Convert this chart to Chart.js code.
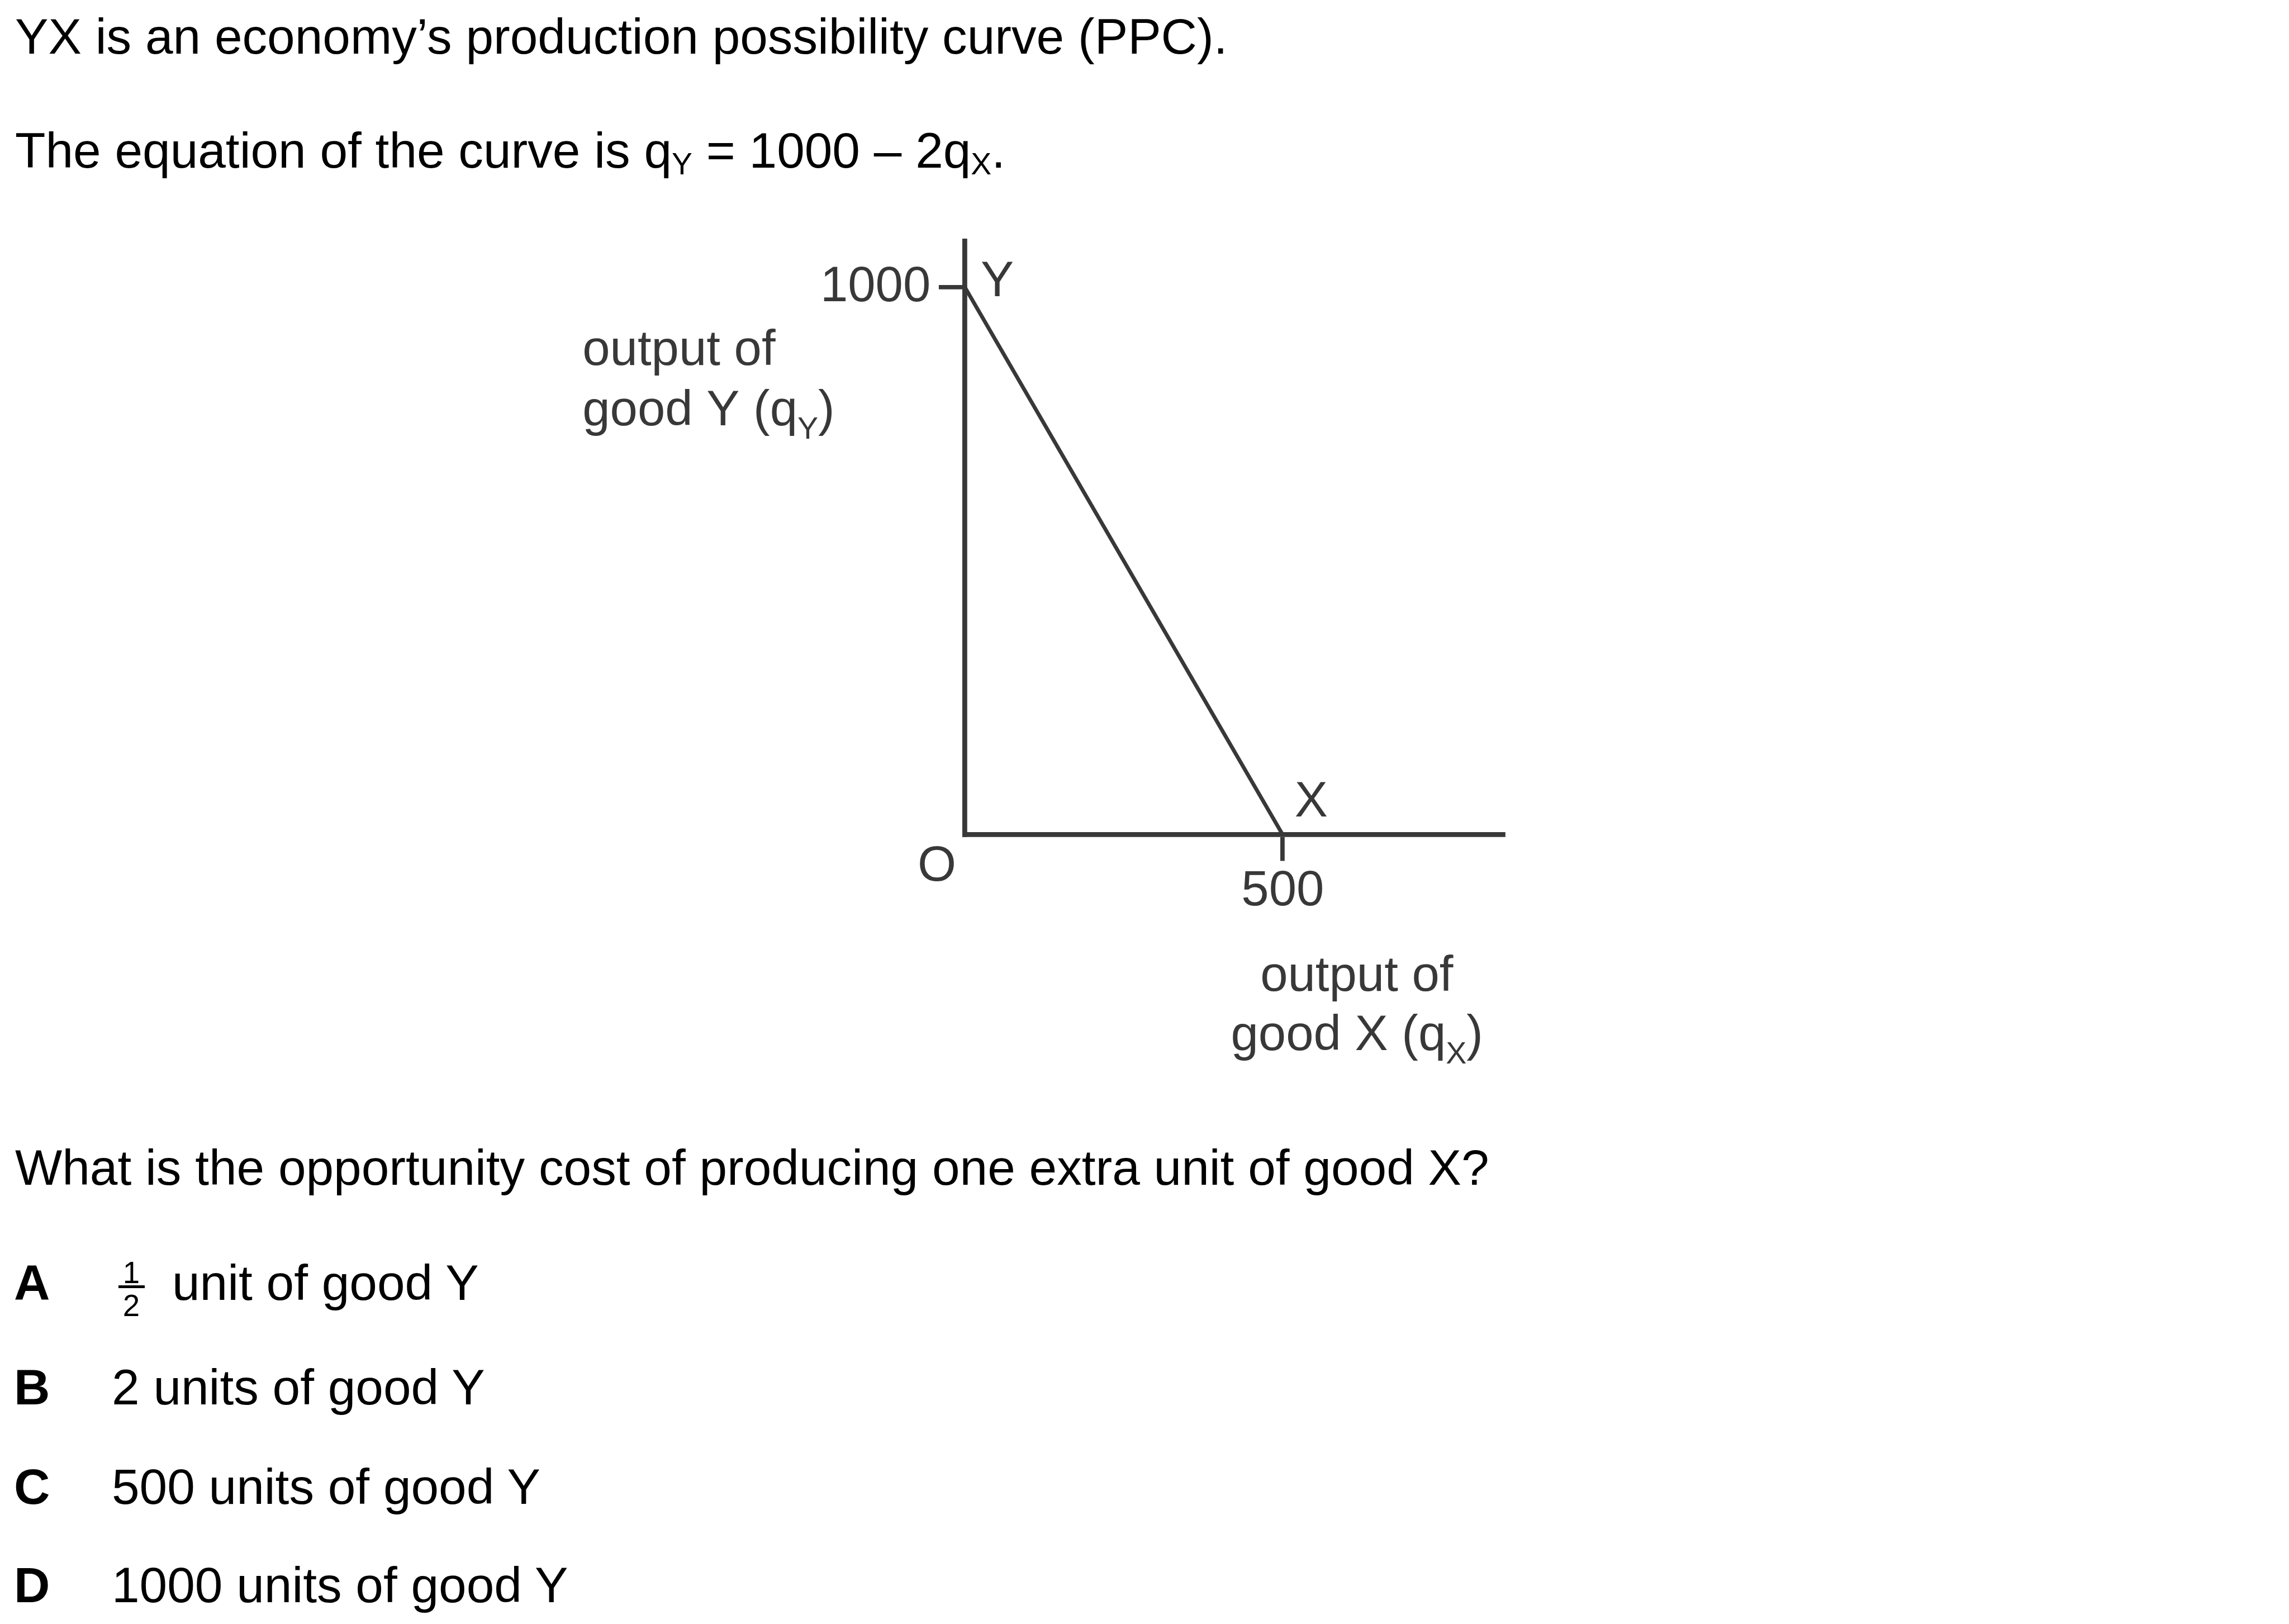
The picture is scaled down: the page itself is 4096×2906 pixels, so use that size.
<!DOCTYPE html>
<html>
<head>
<meta charset="utf-8">
<script src="https://cdn.jsdelivr.net/npm/chart.js@4/dist/chart.umd.min.js"></script>
<style>
body{margin:0;background:#fff;overflow:hidden;}
#page{position:relative;width:4096px;height:2906px;font-family:"Liberation Sans",Arial,sans-serif;color:#000;}
.t{position:absolute;white-space:nowrap;font-size:89.2px;line-height:89.2px;}
.t sub{font-size:0.62em;vertical-align:-0.22em;line-height:0;}
.b{font-weight:bold;}
.f{position:absolute;font-size:54.6px;line-height:54.6px;text-align:center;width:48px;}
.bar{position:absolute;background:#000;}
canvas{position:absolute;left:0;top:0;}
</style>
</head>
<body>
<div id="page">
  <canvas id="ppc" width="4096" height="2906"></canvas>

  <div class="t" style="left:27px;top:21px">YX is an economy’s production possibility curve (PPC).</div>
  <div class="t" style="left:27px;top:225px">The equation of the curve is q<sub>Y</sub> = 1000 – 2q<sub>X</sub>.</div>

  <div class="t" style="left:27px;top:2045px">What is the opportunity cost of producing one extra unit of good X?</div>

  <div class="t b" style="left:25px;top:2251px">A</div>
  <div class="f" style="left:211px;top:2251px">1</div>
  <div class="bar" style="left:212px;top:2300px;width:47px;height:5px"></div>
  <div class="f" style="left:211px;top:2310px">2</div>
  <div class="t" style="left:308px;top:2251px">unit of good Y</div>

  <div class="t b" style="left:25px;top:2438px">B</div>
  <div class="t" style="left:200px;top:2438px">2 units of good Y</div>

  <div class="t b" style="left:25px;top:2616px">C</div>
  <div class="t" style="left:200px;top:2616px">500 units of good Y</div>

  <div class="t b" style="left:25px;top:2792px">D</div>
  <div class="t" style="left:200px;top:2792px">1000 units of good Y</div>
</div>

<script>
// echelle : tout est dessine a 0.975 de la taille de la reference
const S = 0.975;

// donnees de la courbe (PPC : qY = 1000 - 2qX)
const qX = [0, 500];
const qY = [1000, 0];
const xTicks = [500];
const yTicks = [1000];
const xMax = 847;
const yMax = 1085;

const ink = '#383838';
const fontFam = '"Liberation Sans", Arial, sans-serif';
const fs = 91 * S;
const subFs = 57 * S;

// les textes du diagramme, places a partir de l'origine O
const labelsPlugin = {
  id: 'ppcLabels',
  afterDraw(chart) {
    const ctx = chart.ctx;
    const sx = chart.scales.x, sy = chart.scales.y;
    const ox = sx.getPixelForValue(0), oy = sy.getPixelForValue(0);
    ctx.save();
    ctx.fillStyle = ink;
    ctx.textAlign = 'left';
    ctx.textBaseline = 'alphabetic';
    const put = (parts, bx, by) => {
      let px = bx;
      parts.forEach(([txt, sub]) => {
        ctx.font = (sub ? subFs : fs) + 'px ' + fontFam;
        ctx.fillText(txt, px, by + (sub ? 25 * S : 0));
        px += ctx.measureText(txt).width;
      });
    };
    // titre de l'axe vertical
    put([['output of']], ox + (1069 - 1771) * S, oy + (670 - 1532) * S);
    put([['good Y (q'], ['Y', 1], [')']], ox + (1069 - 1771) * S, oy + (780 - 1532) * S);
    // origine
    put([['O']], ox + (1684 - 1771) * S, oy + (1616 - 1532) * S);
    // titre de l'axe horizontal
    put([['output of']], ox + (2313 - 1771) * S, oy + (1818 - 1532) * S);
    put([['good X (q'], ['X', 1], [')']], ox + (2259 - 1771) * S, oy + (1927 - 1532) * S);
    // points Y et X
    const yPx = sx.getPixelForValue(qX[0]), yPy = sy.getPixelForValue(qY[0]);
    put([['Y']], yPx + 29 * S, yPy + 16 * S);
    const xPx = sx.getPixelForValue(qX[1]), xPy = sy.getPixelForValue(qY[1]);
    put([['X']], xPx + 22 * S, xPy - 34 * S);
    ctx.restore();
  }
};

const axisW = 300;
const areaLeft = 1771 * S, areaRight = 2759 * S, areaTop = 442 * S, areaBottom = 1532 * S;

const ctx = document.getElementById('ppc').getContext('2d');
const config = {
  type: 'scatter',
  data: {
    datasets: [{
      data: qX.map((v, i) => ({x: v, y: qY[i]})),
      showLine: true,
      borderColor: ink,
      borderWidth: 7 * S,
      pointRadius: 0,
      clip: false
    }]
  },
  options: {
    responsive: false,
    animation: false,
    devicePixelRatio: 1,
    layout: {
      padding: {
        left: areaLeft - axisW,
        right: 4096 - areaRight,
        top: areaTop,
        bottom: 2906 - areaBottom - axisW
      }
    },
    plugins: {legend: {display: false}, tooltip: {enabled: false}},
    scales: {
      x: {
        type: 'linear', min: 0, max: xMax,
        afterBuildTicks: s => { s.ticks = xTicks.map(v => ({value: v})); },
        afterFit: s => { s.height = axisW; },
        grid: {display: true, drawOnChartArea: false, drawTicks: true, tickLength: 48 * S, color: ink, lineWidth: 8 * S},
        border: {display: true, color: ink, width: 9 * S},
        ticks: {color: ink, font: {family: fontFam, size: fs}, padding: 2, maxRotation: 0, callback: v => String(v)}
      },
      y: {
        type: 'linear', min: 0, max: yMax,
        afterBuildTicks: s => { s.ticks = yTicks.map(v => ({value: v})); },
        afterFit: s => { s.width = axisW; },
        grid: {display: true, drawOnChartArea: false, drawTicks: true, tickLength: 48 * S, color: ink, lineWidth: 8 * S},
        border: {display: true, color: ink, width: 9 * S},
        ticks: {color: ink, font: {family: fontFam, size: fs}, padding: 15 * S, callback: v => String(v)}
      }
    }
  },
  plugins: [labelsPlugin]
};
const ppcChart = new Chart(ctx, config);
</script>
</body>
</html>
